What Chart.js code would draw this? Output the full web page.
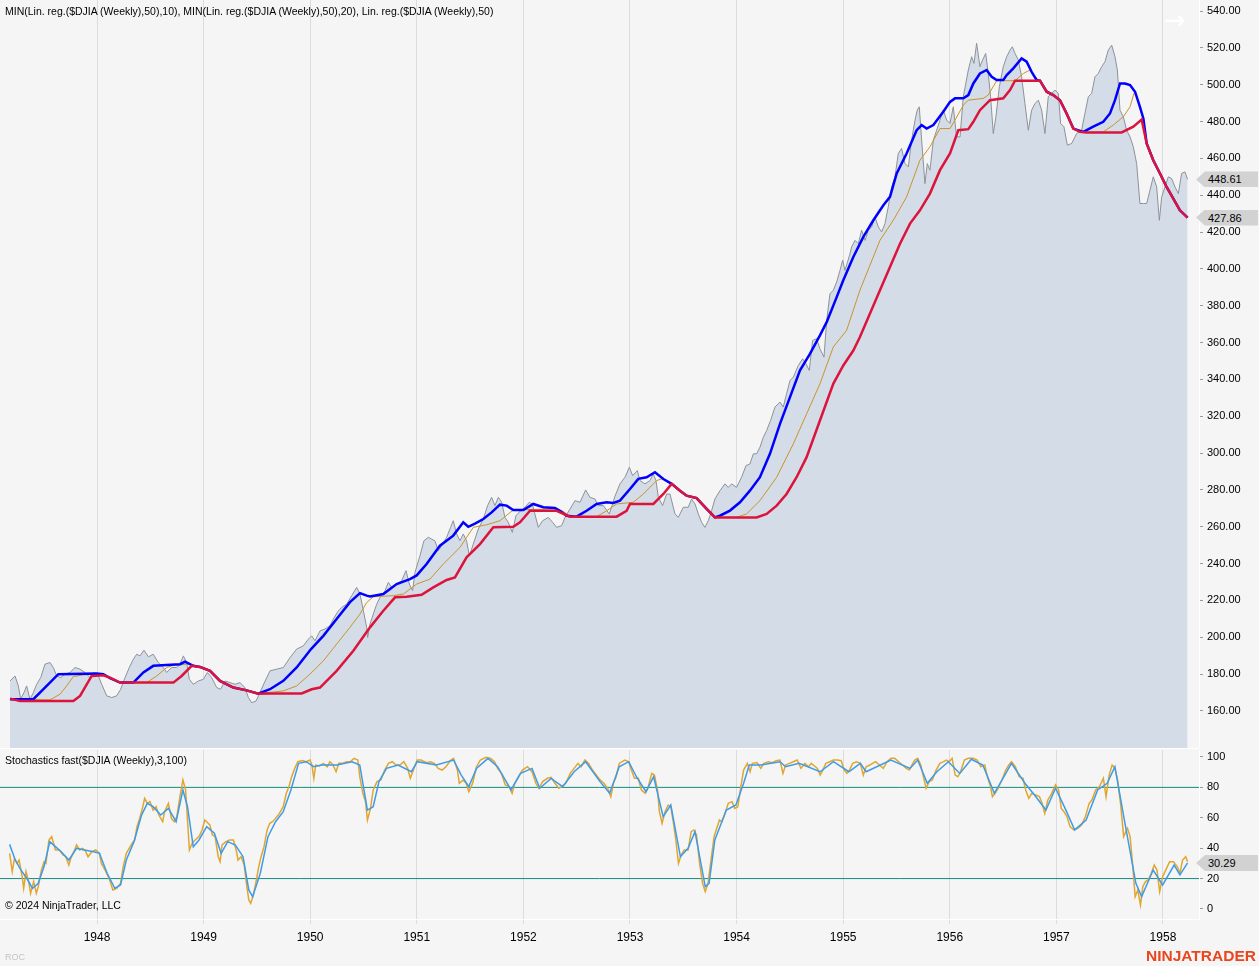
<!DOCTYPE html>
<html>
<head>
<meta charset="utf-8">
<script src="https://cdn.jsdelivr.net/npm/chart.js@4.4.1/dist/chart.umd.min.js"></script>
<style>
  body { margin: 0; background: #f5f5f5; font-family: "Liberation Sans", Arial, sans-serif; }
  #wrap { position: relative; width: 1259px; height: 966px; overflow: hidden; background: #f5f5f5; }
  canvas { position: absolute; left: 0; }
  #priceCanvas { top: 0; }
  #stochCanvas { top: 748px; }
  .lbl { position: absolute; font-size: 10.5px; color: #000; white-space: nowrap; line-height: 12px; }
  .tag { position: absolute; left: 1196px; width: 62px; height: 16px; background: #d2d2d2; color: #000;
         clip-path: polygon(9px 0, 100% 0, 100% 100%, 9px 100%, 0 50%);
         font-size: 11px; line-height: 16px; padding-left: 12px; box-sizing: border-box; }
  .sep { position: absolute; left: 0; width: 1199px; height: 1px; background: #ffffff; }
</style>
</head>
<body>
<div id="wrap">
  <canvas id="priceCanvas" width="1259" height="748"></canvas>
  <canvas id="stochCanvas" width="1259" height="218"></canvas>
  <div class="sep" style="top:748px"></div>
  <div class="lbl" style="left:5px;top:5px">MIN(Lin. reg.($DJIA (Weekly),50),10), MIN(Lin. reg.($DJIA (Weekly),50),20), Lin. reg.($DJIA (Weekly),50)</div>
  <div class="lbl" style="left:5px;top:754px">Stochastics fast($DJIA (Weekly),3,100)</div>
  <div class="lbl" style="left:5px;top:899px">© 2024 NinjaTrader, LLC</div>
  <div class="lbl" style="left:5px;top:951px;font-size:9px;color:#c4c4c4">ROC</div>
  <div class="lbl" style="left:1146px;top:947px;font-size:15.5px;line-height:17px;font-weight:bold;color:#e8461e">NINJATRADER</div>
  <div class="lbl" style="left:1164px;top:6px;font-size:26px;line-height:28px;color:#ffffff;font-family:'DejaVu Sans',sans-serif">→</div>
  <div class="tag" id="tagClose"></div>
  <div class="tag" id="tagMin20"></div>
  <div class="tag" id="tagStoch"></div>
</div>
<script>
const yearTicks = [1948, 1949, 1950, 1951, 1952, 1953, 1954, 1955, 1956, 1957, 1958];
const priceTicks = [160, 180, 200, 220, 240, 260, 280, 300, 320, 340, 360, 380, 400, 420, 440, 460, 480, 500, 520, 540];
const stochTicks = [0, 20, 40, 60, 80, 100];
const stochLevels = [80, 20];

// weekly DJIA close, dates as decimal years
const closeDates = [
  1947.184, 1947.231, 1947.262, 1947.284, 1947.315, 1947.340, 1947.371, 1947.403, 1947.434, 1947.472,
  1947.512, 1947.559, 1947.590, 1947.622, 1947.659, 1947.700, 1947.747, 1947.794, 1947.841, 1947.887,
  1947.934, 1947.972, 1948.013, 1948.044, 1948.091, 1948.138, 1948.184, 1948.222, 1948.263, 1948.303,
  1948.341, 1948.372, 1948.403, 1948.441, 1948.482, 1948.528, 1948.575, 1948.622, 1948.654, 1948.700,
  1948.747, 1948.779, 1948.810, 1948.841, 1948.866, 1948.904, 1948.951, 1948.998, 1949.035, 1949.076,
  1949.123, 1949.160, 1949.201, 1949.248, 1949.295, 1949.341, 1949.388, 1949.420, 1949.451, 1949.492,
  1949.529, 1949.567, 1949.623, 1949.686, 1949.748, 1949.811, 1949.873, 1949.936, 1949.983, 1950.014,
  1950.045, 1950.092, 1950.139, 1950.186, 1950.217, 1950.264, 1950.295, 1950.342, 1950.389, 1950.436,
  1950.467, 1950.499, 1950.530, 1950.539, 1950.561, 1950.592, 1950.624, 1950.655, 1950.702, 1950.733,
  1950.764, 1950.811, 1950.858, 1950.899, 1950.930, 1950.961, 1950.983, 1951.030, 1951.067, 1951.108,
  1951.139, 1951.170, 1951.202, 1951.233, 1951.280, 1951.317, 1951.342, 1951.374, 1951.405, 1951.436,
  1951.467, 1951.493, 1951.530, 1951.577, 1951.624, 1951.664, 1951.702, 1951.733, 1951.765, 1951.796,
  1951.827, 1951.858, 1951.896, 1951.930, 1951.974, 1952.015, 1952.055, 1952.084, 1952.108, 1952.140,
  1952.180, 1952.234, 1952.274, 1952.312, 1952.359, 1952.390, 1952.437, 1952.484, 1952.531, 1952.584,
  1952.624, 1952.671, 1952.703, 1952.750, 1952.806, 1952.859, 1952.906, 1952.953, 1952.994, 1953.025,
  1953.069, 1953.094, 1953.141, 1953.187, 1953.219, 1953.244, 1953.266, 1953.306, 1953.344, 1953.375,
  1953.422, 1953.453, 1953.500, 1953.547, 1953.578, 1953.610, 1953.641, 1953.672, 1953.703, 1953.735,
  1953.766, 1953.797, 1953.844, 1953.891, 1953.922, 1953.954, 1954.000, 1954.047, 1954.088, 1954.125,
  1954.157, 1954.188, 1954.219, 1954.251, 1954.282, 1954.319, 1954.360, 1954.407, 1954.438, 1954.469,
  1954.501, 1954.532, 1954.579, 1954.620, 1954.651, 1954.682, 1954.713, 1954.751, 1954.782, 1954.820,
  1954.845, 1954.876, 1954.907, 1954.939, 1954.970, 1954.995, 1955.017, 1955.064, 1955.079, 1955.111,
  1955.142, 1955.173, 1955.205, 1955.236, 1955.267, 1955.298, 1955.330, 1955.361, 1955.392, 1955.423,
  1955.455, 1955.486, 1955.517, 1955.548, 1955.580, 1955.611, 1955.642, 1955.674, 1955.695, 1955.714,
  1955.736, 1955.767, 1955.789, 1955.814, 1955.846, 1955.877, 1955.908, 1955.939, 1955.971, 1956.002,
  1956.033, 1956.064, 1956.096, 1956.127, 1956.174, 1956.205, 1956.227, 1956.252, 1956.283, 1956.308,
  1956.337, 1956.361, 1956.383, 1956.408, 1956.433, 1956.465, 1956.502, 1956.534, 1956.565, 1956.587,
  1956.612, 1956.643, 1956.674, 1956.705, 1956.737, 1956.768, 1956.799, 1956.831, 1956.862, 1956.893,
  1956.924, 1956.956, 1956.987, 1957.018, 1957.040, 1957.071, 1957.103, 1957.143, 1957.190, 1957.237,
  1957.268, 1957.300, 1957.331, 1957.362, 1957.393, 1957.425, 1957.456, 1957.487, 1957.519, 1957.550,
  1957.572, 1957.597, 1957.628, 1957.659, 1957.691, 1957.722, 1957.753, 1957.784, 1957.816, 1957.847,
  1957.878, 1957.909, 1957.941, 1957.966, 1957.988, 1958.019, 1958.050, 1958.081, 1958.113, 1958.144,
  1958.175, 1958.206, 1958.231
];
const closeValues = [
  176.3, 179.0, 173.6, 166.4, 170.0, 173.6, 166.4, 170.0, 174.5, 178.1,
  185.4, 186.3, 183.6, 179.0, 178.1, 180.0, 180.9, 183.6, 182.7, 180.9,
  178.1, 180.9, 179.0, 174.5, 168.2, 167.3, 168.2, 171.8, 178.1, 183.6,
  188.1, 190.8, 189.9, 193.0, 189.4, 190.8, 186.3, 183.6, 180.9, 183.6,
  183.6, 185.4, 189.9, 186.3, 177.2, 174.5, 176.3, 177.2, 180.9, 178.1,
  172.7, 171.8, 176.3, 175.4, 174.5, 175.4, 172.7, 167.3, 164.5, 165.4,
  170.0, 175.0, 181.8, 182.7, 183.6, 189.0, 193.6, 195.4, 199.0, 200.8,
  198.1, 203.5, 204.5, 206.3, 209.9, 214.4, 216.2, 218.0, 222.6, 227.1,
  223.5, 214.4, 205.4, 199.9, 207.2, 212.6, 218.0, 221.7, 225.3, 229.8,
  227.1, 228.9, 230.7, 236.2, 228.9, 225.3, 235.2, 244.3, 252.4, 254.3,
  253.3, 252.4, 247.0, 249.7, 254.3, 259.7, 263.3, 256.1, 252.4, 256.1,
  252.4, 244.3, 250.6, 258.8, 264.2, 271.5, 276.0, 271.5, 276.0, 273.3,
  265.1, 262.4, 257.0, 266.0, 268.7, 270.6, 273.3, 272.4, 266.9, 259.7,
  263.3, 265.1, 262.4, 259.7, 260.6, 265.1, 269.6, 274.2, 273.3, 280.0,
  276.0, 275.1, 271.5, 271.5, 266.9, 276.6, 283.3, 286.9, 292.3, 287.8,
  290.5, 285.1, 283.3, 285.1, 288.7, 285.1, 276.0, 271.5, 277.8, 277.8,
  267.0, 265.1, 270.6, 270.6, 275.1, 272.4, 267.0, 262.4, 259.7, 263.3,
  268.8, 275.1, 279.6, 283.3, 281.4, 283.3, 281.4, 286.9, 293.2, 294.1,
  299.6, 299.6, 303.2, 308.6, 312.3, 317.7, 325.0, 327.7, 325.0, 332.2,
  339.4, 341.2, 347.6, 351.2, 348.5, 344.9, 361.2, 362.1, 356.6, 352.1,
  372.0, 386.5, 388.4, 392.9, 399.2, 404.7, 399.2, 408.3, 411.9, 415.5,
  413.7, 421.0, 415.5, 421.0, 422.8, 428.2, 422.8, 420.1, 424.6, 433.7,
  444.5, 450.0, 462.7, 465.4, 457.2, 455.4, 469.9, 480.8, 486.2, 488.0,
  469.9, 446.3, 457.2, 453.6, 469.9, 475.3, 480.8, 486.2, 480.8, 479.0,
  488.0, 471.7, 471.7, 493.5, 508.0, 515.2, 511.6, 522.5, 509.8, 513.4,
  517.0, 506.1, 493.5, 473.5, 482.6, 498.9, 509.8, 515.2, 518.8, 520.6,
  517.0, 513.4, 504.3, 489.8, 475.3, 486.2, 489.8, 491.6, 486.2, 473.5,
  493.5, 495.3, 497.1, 495.3, 479.0, 477.2, 467.2, 468.1, 473.5, 475.3,
  484.4, 493.5, 495.3, 504.3, 506.1, 509.8, 512.5, 518.8, 521.5, 515.2,
  508.0, 486.2, 482.6, 475.3, 471.7, 466.3, 457.2, 435.5, 435.5, 435.5,
  442.7, 450.0, 444.5, 426.4, 439.1, 444.5, 450.0, 449.1, 444.5, 440.9,
  451.8, 452.7, 448.61
];

// MIN(Lin. reg.(50), 10) - blue
const min10Dates = [
  1947.184, 1947.403, 1947.528, 1947.637, 1947.997, 1948.059, 1948.122, 1948.216, 1948.341, 1948.435,
  1948.528, 1948.779, 1948.826, 1948.904, 1948.966, 1949.060, 1949.154, 1949.279, 1949.404, 1949.513,
  1949.623, 1949.748, 1949.873, 1950.008, 1950.123, 1950.248, 1950.373, 1950.467, 1950.530, 1950.561,
  1950.686, 1950.811, 1950.936, 1950.999, 1951.092, 1951.217, 1951.342, 1951.436, 1951.483, 1951.546,
  1951.624, 1951.702, 1951.780, 1951.843, 1951.905, 1951.999, 1952.093, 1952.187, 1952.296, 1952.343,
  1952.406, 1952.499, 1952.593, 1952.687, 1952.781, 1952.843, 1952.906, 1953.000, 1953.078, 1953.156,
  1953.234, 1953.313, 1953.391, 1953.469, 1953.531, 1953.625, 1953.719, 1953.797, 1953.844, 1953.938,
  1954.032, 1954.125, 1954.219, 1954.313, 1954.407, 1954.501, 1954.595, 1954.688, 1954.782, 1954.845,
  1954.939, 1955.001, 1955.095, 1955.189, 1955.283, 1955.377, 1955.439, 1955.502, 1955.595, 1955.689,
  1955.736, 1955.783, 1955.846, 1955.939, 1956.002, 1956.049, 1956.127, 1956.174, 1956.221, 1956.283,
  1956.346, 1956.393, 1956.440, 1956.502, 1956.534, 1956.596, 1956.674, 1956.721, 1956.768, 1956.815,
  1956.846, 1956.909, 1956.971, 1957.034, 1957.096, 1957.159, 1957.253, 1957.346, 1957.440, 1957.503,
  1957.550, 1957.597, 1957.644, 1957.691, 1957.738, 1957.784, 1957.816, 1957.847, 1957.909, 1957.972,
  1958.034, 1958.097, 1958.159, 1958.231
];
const min10Values = [
  166.4, 166.4, 173.6, 180.0, 180.3, 180.0, 177.8, 175.4, 175.4, 180.9,
  184.5, 185.4, 186.8, 184.5, 183.9, 181.8, 176.3, 172.7, 171.2, 169.4,
  171.8, 176.4, 183.6, 193.6, 200.8, 209.9, 219.1, 224.0, 222.6, 222.2,
  223.5, 228.9, 231.6, 233.6, 239.8, 249.7, 255.2, 262.4, 260.0, 261.7,
  264.2, 267.8, 272.0, 271.5, 269.1, 269.1, 272.4, 270.6, 270.2, 268.7,
  266.0, 265.5, 268.7, 272.4, 273.3, 272.9, 274.2, 280.5, 286.0, 286.9,
  289.6, 285.9, 283.3, 279.6, 276.9, 275.6, 269.7, 265.1, 266.0, 268.8,
  273.3, 279.6, 286.9, 299.6, 315.9, 330.4, 344.9, 353.9, 363.9, 371.1,
  384.7, 393.8, 406.5, 417.4, 426.4, 434.6, 439.1, 451.8, 462.7, 475.3,
  478.1, 476.2, 478.1, 485.3, 490.7, 492.6, 492.6, 494.4, 500.7, 506.1,
  508.0, 504.3, 502.5, 502.5, 505.2, 508.9, 514.3, 512.5, 507.0, 502.5,
  502.2, 496.2, 494.4, 491.6, 484.4, 476.2, 474.4, 477.2, 479.9, 484.4,
  491.6, 500.7, 500.7, 499.8, 496.2, 488.0, 481.7, 468.1, 459.0, 451.8,
  444.5, 438.2, 431.8, 427.86
];

// MIN(Lin. reg.(50), 20) - red
const min20Dates = [
  1947.184, 1947.278, 1947.778, 1947.841, 1947.950, 1948.059, 1948.122, 1948.216, 1948.716, 1948.794,
  1948.888, 1948.966, 1949.060, 1949.154, 1949.279, 1949.404, 1949.513, 1949.623, 1949.920, 1950.014,
  1950.092, 1950.248, 1950.405, 1950.561, 1950.686, 1950.796, 1950.905, 1951.045, 1951.155, 1951.280,
  1951.358, 1951.467, 1951.593, 1951.718, 1951.905, 1951.968, 1952.062, 1952.312, 1952.437, 1952.875,
  1952.968, 1953.000, 1953.219, 1953.313, 1953.391, 1953.469, 1953.531, 1953.625, 1953.719, 1953.797,
  1954.188, 1954.282, 1954.376, 1954.469, 1954.563, 1954.657, 1954.782, 1954.907, 1955.001, 1955.095,
  1955.157, 1955.345, 1955.439, 1955.533, 1955.627, 1955.720, 1955.814, 1955.908, 1956.002, 1956.080,
  1956.174, 1956.221, 1956.283, 1956.377, 1956.502, 1956.565, 1956.612, 1956.846, 1956.909, 1956.971,
  1957.034, 1957.096, 1957.159, 1957.221, 1957.284, 1957.612, 1957.722, 1957.800, 1957.847, 1957.909,
  1957.972, 1958.034, 1958.097, 1958.159, 1958.231
];
const min20Values = [
  166.7, 165.4, 165.4, 168.2, 179.0, 179.4, 178.1, 175.4, 175.4, 179.0,
  184.5, 183.9, 181.8, 176.3, 172.7, 171.2, 169.4, 169.5, 169.5, 171.8,
  172.7, 181.8, 192.7, 205.4, 214.4, 221.7, 222.0, 223.1, 227.1, 231.1,
  232.5, 243.4, 250.6, 259.7, 260.0, 262.4, 268.7, 268.7, 265.5, 265.5,
  268.7, 272.4, 272.4, 277.8, 283.3, 279.6, 276.9, 275.6, 269.7, 265.1,
  265.1, 267.0, 271.5, 277.8, 286.9, 297.8, 317.7, 337.6, 347.6, 355.7,
  363.0, 388.4, 401.0, 413.7, 424.6, 431.8, 440.9, 453.6, 462.7, 475.3,
  475.9, 479.9, 486.2, 491.6, 492.6, 497.1, 502.2, 502.2, 496.2, 494.4,
  491.6, 484.4, 476.2, 474.4, 474.1, 474.1, 477.2, 481.1, 468.1, 459.0,
  451.8, 444.5, 438.2, 431.8, 427.86
];

// Lin. reg.(50) - gold
const linRegDates = [
  1947.184, 1947.559, 1947.653, 1947.715, 1947.778, 1947.872, 1948.028, 1948.122, 1948.216, 1948.466,
  1948.560, 1948.654, 1948.716, 1948.841, 1948.904, 1949.060, 1949.154, 1949.279, 1949.404, 1949.513,
  1949.748, 1949.873, 1949.998, 1950.123, 1950.248, 1950.373, 1950.467, 1950.530, 1950.592, 1950.780,
  1950.874, 1950.999, 1951.124, 1951.249, 1951.405, 1951.530, 1951.655, 1951.780, 1951.905, 1952.280,
  1952.374, 1952.437, 1952.687, 1952.781, 1952.875, 1953.031, 1953.125, 1953.250, 1953.313, 1953.391,
  1953.469, 1953.531, 1953.625, 1953.719, 1953.797, 1954.000, 1954.094, 1954.219, 1954.376, 1954.532,
  1954.657, 1954.782, 1954.907, 1955.032, 1955.157, 1955.345, 1955.470, 1955.595, 1955.720, 1955.814,
  1955.908, 1956.002, 1956.049, 1956.127, 1956.174, 1956.315, 1956.361, 1956.440, 1956.612, 1956.690,
  1956.752, 1956.815, 1956.846, 1956.909, 1956.971, 1957.034, 1957.096, 1957.159, 1957.221, 1957.284,
  1957.440, 1957.534, 1957.628, 1957.691, 1957.728, 1957.753, 1957.784, 1957.816, 1957.847, 1957.909,
  1957.972, 1958.034, 1958.097, 1958.159, 1958.231
];
const linRegValues = [
  166.4, 166.0, 169.1, 173.6, 178.7, 179.6, 179.9, 178.1, 175.4, 175.4,
  179.0, 183.6, 184.8, 185.4, 184.8, 181.8, 176.3, 172.7, 171.2, 169.4,
  170.9, 173.6, 180.0, 187.2, 196.3, 205.4, 212.6, 218.9, 222.0, 222.6,
  223.5, 228.9, 231.6, 239.8, 248.8, 259.7, 261.1, 263.3, 269.1, 269.7,
  268.4, 265.5, 265.5, 268.7, 272.4, 273.3, 277.8, 285.1, 286.3, 283.3,
  279.6, 276.9, 275.6, 269.7, 265.1, 265.1, 267.0, 274.2, 286.9, 305.0,
  321.3, 337.6, 357.6, 366.6, 388.4, 415.5, 426.4, 439.1, 459.0, 466.3,
  476.2, 476.2, 480.8, 488.9, 491.6, 492.6, 494.4, 502.2, 502.2, 506.1,
  508.0, 503.4, 502.2, 496.2, 494.4, 491.6, 484.4, 476.2, 474.4, 474.1,
  474.4, 478.1, 482.6, 488.0, 495.3, 493.5, 487.1, 481.7, 468.1, 459.0,
  451.8, 444.5, 438.2, 431.8, 427.86
];

// Stochastics fast %K (goldenrod)
const stochKDates = [
  1947.180, 1947.205, 1947.226, 1947.251, 1947.269, 1947.298, 1947.312, 1947.334, 1947.359, 1947.377,
  1947.406, 1947.431, 1947.449, 1947.478, 1947.503, 1947.521, 1947.549, 1947.575, 1947.610, 1947.646,
  1947.682, 1947.707, 1947.736, 1947.754, 1947.790, 1947.808, 1947.837, 1947.862, 1947.887, 1947.916,
  1947.952, 1947.988, 1948.023, 1948.041, 1948.077, 1948.113, 1948.149, 1948.185, 1948.221, 1948.246,
  1948.275, 1948.311, 1948.329, 1948.354, 1948.375, 1948.400, 1948.426, 1948.447, 1948.472, 1948.497,
  1948.526, 1948.555, 1948.580, 1948.616, 1948.634, 1948.670, 1948.698, 1948.724, 1948.749, 1948.778,
  1948.806, 1948.831, 1948.849, 1948.867, 1948.892, 1948.921, 1948.957, 1948.986, 1949.011, 1949.029,
  1949.058, 1949.083, 1949.108, 1949.137, 1949.155, 1949.173, 1949.209, 1949.244, 1949.280, 1949.309,
  1949.323, 1949.352, 1949.381, 1949.406, 1949.424, 1949.442, 1949.467, 1949.489, 1949.514, 1949.539,
  1949.567, 1949.596, 1949.621, 1949.646, 1949.675, 1949.711, 1949.747, 1949.776, 1949.801, 1949.826,
  1949.855, 1949.884, 1949.927, 1949.962, 1949.998, 1950.016, 1950.034, 1950.052, 1950.088, 1950.124,
  1950.160, 1950.185, 1950.214, 1950.243, 1950.268, 1950.304, 1950.340, 1950.375, 1950.411, 1950.447,
  1950.465, 1950.494, 1950.519, 1950.537, 1950.566, 1950.591, 1950.627, 1950.663, 1950.699, 1950.734,
  1950.770, 1950.806, 1950.842, 1950.878, 1950.914, 1950.939, 1950.968, 1951.004, 1951.040, 1951.093,
  1951.129, 1951.165, 1951.201, 1951.237, 1951.273, 1951.320, 1951.345, 1951.381, 1951.399, 1951.435,
  1951.463, 1951.488, 1951.524, 1951.560, 1951.596, 1951.650, 1951.693, 1951.729, 1951.758, 1951.794,
  1951.830, 1951.865, 1951.894, 1951.919, 1951.955, 1951.991, 1952.038, 1952.081, 1952.117, 1952.145,
  1952.181, 1952.225, 1952.260, 1952.296, 1952.332, 1952.361, 1952.397, 1952.440, 1952.476, 1952.512,
  1952.541, 1952.577, 1952.612, 1952.648, 1952.673, 1952.719, 1952.755, 1952.791, 1952.820, 1952.845,
  1952.870, 1952.899, 1952.927, 1952.952, 1952.988, 1953.013, 1953.042, 1953.078, 1953.107, 1953.143,
  1953.168, 1953.204, 1953.229, 1953.258, 1953.276, 1953.301, 1953.329, 1953.358, 1953.383, 1953.408,
  1953.430, 1953.455, 1953.480, 1953.509, 1953.545, 1953.574, 1953.599, 1953.624, 1953.653, 1953.681,
  1953.706, 1953.732, 1953.760, 1953.789, 1953.814, 1953.839, 1953.861, 1953.886, 1953.922, 1953.958,
  1953.983, 1954.012, 1954.040, 1954.066, 1954.101, 1954.127, 1954.148, 1954.191, 1954.227, 1954.256,
  1954.299, 1954.335, 1954.371, 1954.407, 1954.435, 1954.460, 1954.496, 1954.532, 1954.568, 1954.604,
  1954.640, 1954.676, 1954.701, 1954.730, 1954.758, 1954.784, 1954.809, 1954.837, 1954.873, 1954.909,
  1954.945, 1954.981, 1955.010, 1955.035, 1955.060, 1955.089, 1955.125, 1955.161, 1955.189, 1955.215,
  1955.250, 1955.276, 1955.304, 1955.340, 1955.376, 1955.412, 1955.448, 1955.484, 1955.520, 1955.556,
  1955.592, 1955.620, 1955.645, 1955.671, 1955.699, 1955.728, 1955.753, 1955.778, 1955.807, 1955.836,
  1955.872, 1955.907, 1955.943, 1955.969, 1955.994, 1956.022, 1956.051, 1956.076, 1956.101, 1956.137,
  1956.173, 1956.220, 1956.256, 1956.292, 1956.328, 1956.353, 1956.382, 1956.400, 1956.425, 1956.453,
  1956.489, 1956.525, 1956.554, 1956.579, 1956.615, 1956.651, 1956.687, 1956.712, 1956.741, 1956.769,
  1956.805, 1956.841, 1956.866, 1956.891, 1956.920, 1956.956, 1956.992, 1957.021, 1957.046, 1957.071,
  1957.100, 1957.128, 1957.164, 1957.200, 1957.236, 1957.272, 1957.308, 1957.333, 1957.369, 1957.405,
  1957.441, 1957.466, 1957.495, 1957.523, 1957.549, 1957.574, 1957.602, 1957.631, 1957.667, 1957.692,
  1957.717, 1957.739, 1957.764, 1957.789, 1957.811, 1957.836, 1957.861, 1957.890, 1957.918, 1957.944,
  1957.969, 1957.997, 1958.026, 1958.062, 1958.098, 1958.134, 1958.159, 1958.184, 1958.213, 1958.231
];
const stochKValues = [
  36.6, 24.6, 33.3, 30.0, 32.2, 21.3, 13.6, 24.6, 18.0, 10.3,
  18.0, 10.3, 14.7, 25.6, 31.1, 30.0, 45.4, 47.6, 38.8, 38.8,
  35.5, 34.4, 28.9, 33.3, 38.8, 42.1, 38.8, 39.9, 38.8, 34.4,
  37.7, 38.8, 36.6, 30.0, 25.6, 20.2, 12.5, 13.6, 16.9, 27.9,
  36.6, 41.0, 43.2, 45.4, 54.2, 59.6, 66.2, 72.8, 69.5, 70.6,
  65.1, 67.3, 61.8, 57.4, 64.0, 69.5, 59.6, 57.4, 60.7, 73.9,
  84.9, 78.3, 58.5, 38.8, 43.2, 45.4, 47.6, 52.0, 58.5, 57.4,
  55.3, 48.7, 47.6, 34.4, 31.1, 42.1, 44.3, 45.4, 45.4, 37.7,
  32.2, 34.4, 28.9, 14.7, 5.9, 3.7, 9.2, 16.9, 26.7, 34.4,
  41.0, 52.0, 56.4, 57.4, 59.6, 62.9, 67.3, 76.1, 80.5, 87.0,
  92.5, 96.9, 97.6, 96.9, 98.0, 94.7, 86.0, 94.7, 94.1, 95.8,
  93.6, 96.9, 94.7, 90.3, 95.8, 95.8, 96.9, 96.9, 99.1, 98.0,
  87.0, 76.1, 70.6, 58.5, 66.2, 78.3, 83.8, 84.9, 91.4, 95.8,
  96.9, 94.7, 94.7, 96.9, 92.5, 86.0, 91.4, 98.0, 98.0, 96.3,
  96.9, 95.8, 92.5, 91.4, 93.6, 98.0, 99.1, 91.4, 82.7, 84.9,
  82.7, 77.2, 82.7, 93.6, 98.0, 99.8, 99.1, 96.9, 92.5, 89.2,
  81.6, 80.5, 76.1, 82.7, 87.0, 91.4, 93.6, 90.3, 82.7, 79.4,
  83.8, 86.0, 86.6, 82.7, 79.4, 80.5, 82.7, 89.2, 92.5, 95.8,
  93.6, 98.0, 95.8, 91.4, 89.2, 84.9, 82.7, 79.4, 73.9, 82.7,
  87.0, 95.8, 96.9, 98.0, 96.9, 91.4, 86.0, 86.0, 78.3, 76.1,
  79.4, 89.2, 88.1, 78.3, 64.0, 56.4, 64.0, 68.4, 67.3, 56.4,
  45.4, 30.0, 35.5, 38.8, 38.8, 50.9, 52.0, 48.7, 30.0, 16.9,
  11.4, 16.9, 32.2, 47.6, 53.1, 58.5, 57.4, 61.8, 69.5, 70.6,
  66.2, 67.3, 80.5, 91.4, 95.8, 90.3, 95.8, 96.3, 92.5, 95.8,
  96.9, 96.3, 97.6, 98.0, 89.2, 94.7, 95.8, 96.9, 98.0, 92.5,
  95.8, 93.6, 95.8, 94.1, 92.5, 88.1, 91.4, 95.8, 96.9, 98.0,
  98.0, 97.6, 91.4, 89.2, 91.4, 95.8, 96.9, 95.8, 88.1, 93.6,
  94.7, 95.8, 96.9, 94.7, 92.5, 96.9, 99.1, 99.1, 96.9, 94.7,
  92.5, 91.4, 94.7, 98.0, 99.1, 94.7, 87.0, 79.4, 83.8, 84.9,
  91.4, 95.8, 96.9, 98.0, 96.9, 99.1, 88.1, 87.0, 90.3, 98.0,
  99.1, 99.1, 98.0, 93.6, 94.7, 87.0, 80.5, 73.9, 76.1, 79.4,
  84.9, 91.4, 94.7, 96.9, 93.6, 87.0, 86.0, 78.3, 72.8, 76.1,
  75.0, 73.9, 69.5, 62.9, 71.7, 76.1, 81.6, 78.3, 66.2, 64.0,
  60.7, 54.2, 52.0, 53.1, 55.3, 60.7, 69.5, 71.7, 78.3, 80.5,
  86.0, 73.9, 88.1, 94.7, 92.5, 84.9, 69.5, 47.6, 53.1, 47.6,
  27.9, 8.1, 12.5, 2.6, 14.7, 18.0, 19.1, 23.5, 28.9, 25.6,
  11.4, 21.3, 25.6, 31.1, 31.1, 27.9, 23.5, 32.2, 34.4, 31.1
];

// Stochastics fast %D (dodger blue)
const stochDDates = [
  1947.180, 1947.233, 1947.287, 1947.341, 1947.395, 1947.449, 1947.503, 1947.557, 1947.610, 1947.664,
  1947.736, 1947.808, 1947.880, 1947.970, 1948.023, 1948.095, 1948.167, 1948.221, 1948.275, 1948.347,
  1948.418, 1948.472, 1948.526, 1948.598, 1948.670, 1948.742, 1948.806, 1948.849, 1948.903, 1948.957,
  1949.029, 1949.101, 1949.165, 1949.226, 1949.298, 1949.370, 1949.424, 1949.460, 1949.532, 1949.604,
  1949.675, 1949.747, 1949.819, 1949.891, 1949.962, 1950.034, 1950.106, 1950.250, 1950.393, 1950.465,
  1950.537, 1950.591, 1950.645, 1950.716, 1950.824, 1950.950, 1951.004, 1951.183, 1951.345, 1951.417,
  1951.488, 1951.560, 1951.668, 1951.758, 1951.884, 1951.973, 1952.081, 1952.153, 1952.260, 1952.368,
  1952.476, 1952.584, 1952.719, 1952.809, 1952.899, 1952.988, 1953.060, 1953.150, 1953.222, 1953.311,
  1953.383, 1953.473, 1953.545, 1953.610, 1953.706, 1953.742, 1953.796, 1953.904, 1953.994, 1954.066,
  1954.119, 1954.227, 1954.407, 1954.460, 1954.586, 1954.784, 1954.909, 1955.053, 1955.161, 1955.215,
  1955.448, 1955.627, 1955.699, 1955.789, 1955.879, 1955.987, 1956.094, 1956.202, 1956.310, 1956.418,
  1956.579, 1956.705, 1956.795, 1956.902, 1956.992, 1957.082, 1957.172, 1957.279, 1957.387, 1957.477,
  1957.549, 1957.638, 1957.746, 1957.800, 1957.908, 1957.997, 1958.105, 1958.159, 1958.231
];
const stochDValues = [
  42.5, 32.2, 25.6, 20.2, 13.6, 16.9, 27.9, 44.3, 41.0, 37.7,
  32.2, 39.9, 38.8, 37.7, 36.6, 23.5, 13.6, 15.8, 32.2, 44.3,
  61.8, 69.5, 67.3, 61.8, 66.2, 57.4, 78.3, 67.3, 41.0, 45.4,
  54.2, 49.8, 36.6, 44.3, 42.1, 34.4, 12.5, 8.1, 23.5, 47.6,
  57.4, 64.0, 78.3, 95.8, 96.9, 93.6, 94.7, 94.7, 96.9, 94.7,
  65.1, 67.3, 83.8, 92.5, 94.7, 90.3, 96.9, 94.7, 98.0, 88.1,
  80.5, 92.5, 99.1, 93.6, 78.3, 89.2, 92.5, 79.4, 85.9, 80.5,
  90.3, 96.9, 83.8, 76.1, 93.6, 96.9, 87.0, 77.2, 87.0, 60.7,
  68.4, 34.4, 39.9, 50.9, 14.7, 16.9, 45.4, 65.1, 68.4, 82.7,
  94.7, 94.7, 96.9, 93.6, 95.8, 90.3, 96.9, 90.3, 95.8, 90.3,
  98.0, 92.5, 98.0, 82.7, 90.3, 96.9, 89.2, 98.5, 94.7, 76.1,
  95.8, 82.7, 75.0, 65.1, 79.4, 66.2, 52.0, 58.5, 78.3, 82.7,
  93.6, 58.5, 16.9, 8.1, 25.6, 15.8, 28.9, 22.4, 30.29
];

const xMin = 1947.09;
const xMax = 1958.338;
const fontFamily = '"Liberation Sans", Arial, sans-serif';

function toPoints(dates, values) {
  return dates.map((d, i) => ({ x: d, y: values[i] }));
}

function yearAxis(showLabels) {
  return {
    type: 'linear',
    min: xMin,
    max: xMax,
    afterBuildTicks: s => { s.ticks = yearTicks.map(v => ({ value: v })); },
    ticks: {
      display: showLabels,
      color: '#000',
      font: { size: 12, family: fontFamily },
      padding: 6,
      maxRotation: 0,
      callback: v => String(v)
    },
    grid: { color: '#dcdcdc', tickLength: showLabels ? 5 : 0, drawTicks: showLabels },
    border: { display: showLabels, color: '#ffffff' },
    afterFit: s => {
      s.height = showLabels ? 47 : 0;
      s.paddingLeft = 0;
      s.paddingRight = 0;
    }
  };
}

function valueAxis(min, max, ticks, fmt) {
  return {
    position: 'right',
    min: min,
    max: max,
    afterBuildTicks: s => { s.ticks = ticks.map(v => ({ value: v })); },
    ticks: { color: '#000', font: { size: 11, family: fontFamily }, padding: 4, callback: fmt },
    grid: { drawOnChartArea: false, tickLength: 4, color: '#9a9a9a' },
    border: { color: '#ffffff' },
    afterFit: s => {
      s.width = 60;
      s.paddingTop = 0;
      s.paddingBottom = 0;
    }
  };
}

const baseOptions = {
  responsive: false,
  animation: false,
  devicePixelRatio: 1,
  elements: { point: { radius: 0 }, line: { tension: 0 } },
  plugins: { legend: { display: false }, tooltip: { enabled: false } }
};

const priceChart = new Chart(document.getElementById('priceCanvas'), {
  type: 'line',
  data: {
    datasets: [
      { label: 'MIN(Lin. reg.,20)', data: toPoints(min20Dates, min20Values), borderColor: '#dc143c', borderWidth: 2.5, order: 1 },
      { label: 'MIN(Lin. reg.,10)', data: toPoints(min10Dates, min10Values), borderColor: '#0000ff', borderWidth: 2.5, order: 2 },
      { label: 'Lin. reg.', data: toPoints(linRegDates, linRegValues), borderColor: '#c9952a', borderWidth: 1, order: 3 },
      { label: '$DJIA', data: toPoints(closeDates, closeValues), borderColor: '#8d9198', borderWidth: 1,
        backgroundColor: '#d3dce7', fill: 'start', order: 4 }
    ]
  },
  options: {
    ...baseOptions,
    layout: { padding: 0 },
    scales: {
      x: yearAxis(false),
      y: valueAxis(139.9, 546, priceTicks, v => v.toFixed(2))
    }
  }
});

const levelDatasets = stochLevels.map(lvl => ({
  label: 'level ' + lvl,
  data: [{ x: xMin, y: lvl }, { x: xMax, y: lvl }],
  borderColor: '#138a83',
  borderWidth: 1,
  order: 3
}));

const stochChart = new Chart(document.getElementById('stochCanvas'), {
  type: 'line',
  data: {
    datasets: [
      { label: 'D', data: toPoints(stochDDates, stochDValues), borderColor: '#3d9be9', borderWidth: 1.5, order: 1 },
      { label: 'K', data: toPoints(stochKDates, stochKValues), borderColor: '#e0a630', borderWidth: 1.5, order: 2 },
      ...levelDatasets
    ]
  },
  options: {
    ...baseOptions,
    layout: { padding: { top: 2 } },
    scales: {
      x: yearAxis(true),
      y: valueAxis(-6.6, 104.6, stochTicks, v => String(v))
    }
  }
});

// last-value tags on the right axes
function placeTag(id, chart, value, offsetTop) {
  const el = document.getElementById(id);
  el.textContent = value.toFixed(2);
  el.style.top = (offsetTop + chart.scales.y.getPixelForValue(value) - 8) + 'px';
}
placeTag('tagClose', priceChart, closeValues[closeValues.length - 1], 0);
placeTag('tagMin20', priceChart, min20Values[min20Values.length - 1], 0);
placeTag('tagStoch', stochChart, stochDValues[stochDValues.length - 1], 748);
</script>
</body>
</html>
